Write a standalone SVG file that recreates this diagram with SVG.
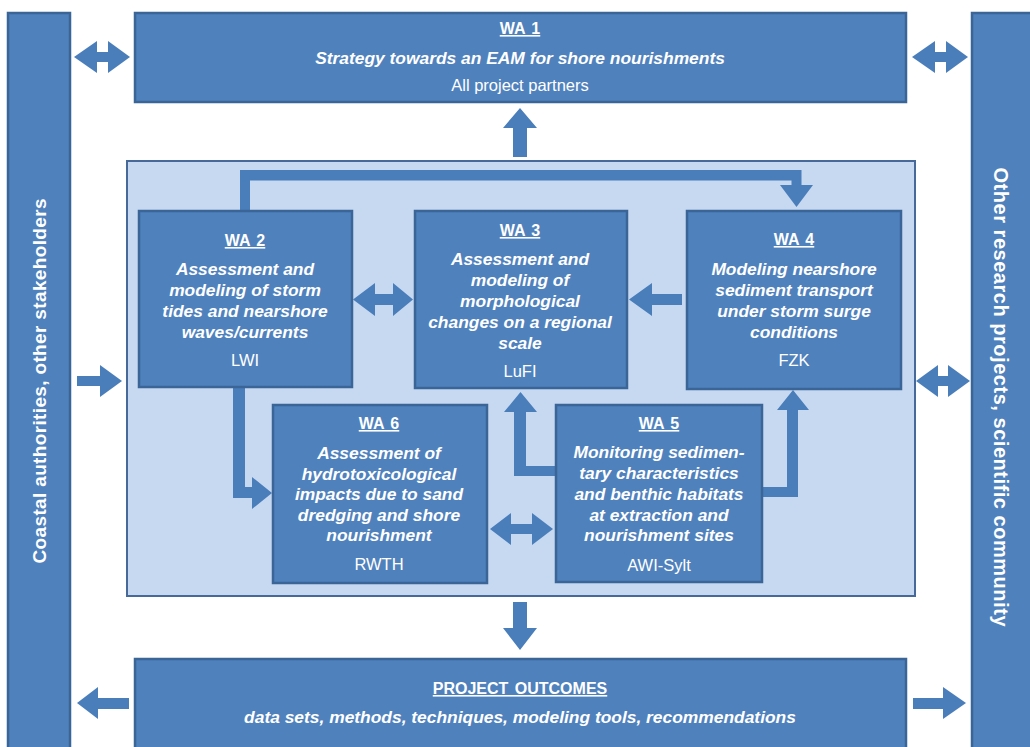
<svg xmlns="http://www.w3.org/2000/svg" width="1030" height="747" viewBox="0 0 1030 747">
<style>
.box{fill:#4F81BD;stroke:#3A6596;stroke-width:2.5}
.panel{fill:#C6D9F1;stroke:#46699A;stroke-width:2}
.arr{fill:#4A7EBB;stroke:none}
text{font-family:"Liberation Sans",Arial,sans-serif;fill:#FFFFFF;text-anchor:middle}
.h{font-size:16px;font-weight:bold;text-decoration:underline;word-spacing:2px}
.t{font-size:17.4px;font-weight:bold;font-style:italic}
.r{font-size:16.5px}
.side{font-size:19px;font-weight:bold}
.side2{font-size:20px;font-weight:bold}
</style>
<rect width="1030" height="747" fill="#FFFFFF"/>

<g id="left-bar">
<rect class="box" x="8" y="13" width="62" height="750"/>
<text class="side" transform="translate(46,381) rotate(-90)" textLength="365" lengthAdjust="spacing">Coastal authorities, other stakeholders</text>
</g>
<g id="right-bar">
<rect class="box" x="972" y="13" width="70" height="750"/>
<text class="side2" transform="translate(994,397) rotate(90)" textLength="459" lengthAdjust="spacing">Other research projects, scientific community</text>
</g>

<g id="wa1">
<rect class="box" x="135" y="13" width="771" height="89"/>
<text class="h" x="520" y="34">WA 1</text>
<text class="t" x="520" y="64">Strategy towards an EAM for shore nourishments</text>
<text class="r" x="520" y="91">All project partners</text>
</g>

<g id="panel">
<rect class="panel" x="127" y="161" width="788" height="435"/>
</g>

<g id="outcomes">
<rect class="box" x="135" y="659" width="771" height="100"/>
<text class="h" x="520" y="694">PROJECT OUTCOMES</text>
<text class="t" x="520" y="723">data sets, methods, techniques, modeling tools, recommendations</text>
</g>

<g id="connectors">
<path class="arr" d="M74,57 L97,41 L97,52 L108,52 L108,41 L130,57 L108,73 L108,62 L97,62 L97,73 Z"/>
<path class="arr" d="M912,57 L935,41 L935,52 L946,52 L946,41 L968,57 L946,73 L946,62 L935,62 L935,73 Z"/>
<path class="arr" d="M916,381 L938,365 L938,376 L948,376 L948,365 L970,381 L948,397 L948,386 L938,386 L938,397 Z"/>
<path class="arr" d="M77,376 L100,376 L100,365 L122,381 L100,397 L100,386 L77,386 Z"/>
<path class="arr" d="M513,157 L513,128 L503,128 L520,108 L537,128 L527,128 L527,157 Z"/>
<path class="arr" d="M513,602 L527,602 L527,628 L537,628 L520,650 L503,628 L513,628 Z"/>
<path class="arr" d="M129,698 L98,698 L98,687 L77,703 L98,719 L98,709 L129,709 Z"/>
<path class="arr" d="M913,698 L943,698 L943,687 L966,703 L943,719 L943,709 L913,709 Z"/>
<path class="arr" d="M240,211 L240,170 L801.5,170 L801.5,185 L813,185 L796.5,207 L780,185 L791.5,185 L791.5,180.5 L250,180.5 L250,211 Z"/>
<path class="arr" d="M353,299.5 L375,283 L375,294 L393,294 L393,283 L413,299.5 L393,316 L393,305 L375,305 L375,316 Z"/>
<path class="arr" d="M682,294 L652,294 L652,283 L629,299.5 L652,316 L652,305 L682,305 Z"/>
<path class="arr" d="M233,388 L245,388 L245,487 L252,487 L252,477 L272,493 L252,509 L252,498 L233,498 Z"/>
<path class="arr" d="M556,466 L526,466 L526,412 L537,412 L520.5,392 L504,412 L514,412 L514,476 L556,476 Z"/>
<path class="arr" d="M762,487 L787,487 L787,410 L777,410 L793,390 L809,410 L798,410 L798,497 L762,497 Z"/>
<path class="arr" d="M490,529 L511,513 L511,524 L532,524 L532,513 L553,529 L532,545 L532,534 L511,534 L511,545 Z"/>
</g>

<g id="wa2">
<rect class="box" x="139" y="211" width="213" height="176"/>
<text class="h" x="245" y="246">WA 2</text>
<text class="t" x="245" y="275">Assessment and</text>
<text class="t" x="245" y="296">modeling of storm</text>
<text class="t" x="245" y="317">tides and nearshore</text>
<text class="t" x="245" y="338">waves/currents</text>
<text class="r" x="245" y="366">LWI</text>
</g>

<g id="wa3">
<rect class="box" x="415" y="211" width="212" height="177"/>
<text class="h" x="520" y="236">WA 3</text>
<text class="t" x="520" y="265">Assessment and</text>
<text class="t" x="520" y="286">modeling of</text>
<text class="t" x="520" y="307">morphological</text>
<text class="t" x="520" y="328">changes on a regional</text>
<text class="t" x="520" y="349">scale</text>
<text class="r" x="520" y="377">LuFI</text>
</g>

<g id="wa4">
<rect class="box" x="687" y="211" width="214" height="178"/>
<text class="h" x="794" y="245">WA 4</text>
<text class="t" x="794" y="275">Modeling nearshore</text>
<text class="t" x="794" y="296">sediment transport</text>
<text class="t" x="794" y="317">under storm surge</text>
<text class="t" x="794" y="338">conditions</text>
<text class="r" x="794" y="366">FZK</text>
</g>

<g id="wa6">
<rect class="box" x="273" y="405" width="214" height="178"/>
<text class="h" x="379" y="429">WA 6</text>
<text class="t" x="379" y="459">Assessment of</text>
<text class="t" x="379" y="479.5">hydrotoxicological</text>
<text class="t" x="379" y="500">impacts due to sand</text>
<text class="t" x="379" y="520.5">dredging and shore</text>
<text class="t" x="379" y="541">nourishment</text>
<text class="r" x="379" y="570">RWTH</text>
</g>

<g id="wa5">
<rect class="box" x="556" y="405" width="206" height="177"/>
<text class="h" x="659" y="429">WA 5</text>
<text class="t" x="659" y="458">Monitoring sedimen-</text>
<text class="t" x="659" y="479">tary characteristics</text>
<text class="t" x="659" y="500">and benthic habitats</text>
<text class="t" x="659" y="521">at extraction and</text>
<text class="t" x="659" y="541">nourishment sites</text>
<text class="r" x="659" y="571">AWI-Sylt</text>
</g>
</svg>
